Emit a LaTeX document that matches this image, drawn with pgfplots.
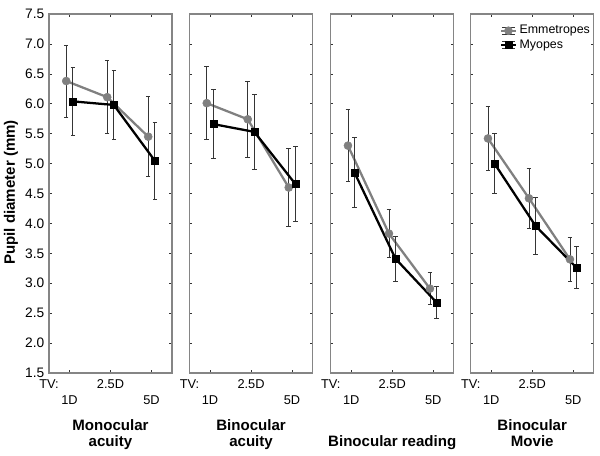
\documentclass[border=0pt]{standalone}
\usepackage{fontspec}
\setmainfont{Liberation Sans}
\usepackage{pgfplots}
\pgfplotsset{compat=1.18}
\definecolor{egray}{HTML}{808080}
\definecolor{axgray}{HTML}{858585}
\definecolor{errcol}{HTML}{353535}

\tikzset{
  xlab/.style={font=\fontsize{9.6}{11}\selectfont, anchor=base},
  ttl/.style={font=\bfseries\fontsize{11.3}{13}\selectfont, anchor=base},
}
\pgfplotsset{
  panel/.style={
    scale only axis, width=92.25pt, height=269.25pt,
    xmin=0.5, xmax=3.5, ymin=1.5, ymax=7.5,
    xtick={1,2,3}, xticklabels={},
    ytick={1.5,2.0,2.5,3.0,3.5,4.0,4.5,5.0,5.5,6.0,6.5,7.0,7.5},
    tick align=inside, tick pos=both, major tick length=2pt,
    axis line style={draw=axgray, line width=0.9pt},
    tick style={black!80, line width=0.5pt},
    yticklabel style={font=\fontsize{10.3}{12}\selectfont, /pgf/number format/.cd, fixed, fixed zerofill, precision=1, assume math mode=true},
    clip=false,
  },
  errs/.style={error bars/.cd, y dir=both, y explicit,
    error bar style={line width=0.55pt, errcol},
    error mark options={rotate=90, mark size=1.7pt, line width=0.55pt, errcol}},
  emm/.style={egray, line width=1.7pt, mark=*, mark size=3pt,
    mark options={fill=egray, draw=egray, solid, line width=0.4pt}, errs},
  myo/.style={black, line width=1.7pt, mark=square*, mark size=2.6pt,
    mark options={fill=black, draw=black, solid, line width=0.4pt}, errs},
}

\newcommand{\xlabs}{%
  \node[xlab, yshift=-11.25pt] at (axis cs:0.5,1.5) {TV:};
  \node[xlab, yshift=-11.25pt] at (axis cs:2,1.5) {2.5D};
  \node[xlab, yshift=-23.25pt] at (axis cs:1,1.5) {1D};
  \node[xlab, yshift=-23.25pt] at (axis cs:3,1.5) {5D};
}

\begin{document}
\begin{tikzpicture}
\useasboundingbox (-36.75pt,-61.5pt) rectangle (413.25pt,279.75pt);

% Panel 1: Monocular acuity
\begin{axis}[panel, name=a1, at={(0pt,0pt)}]
\addplot[emm] coordinates {(0.92,6.38) +- (0,0.60) (1.92,6.11) +- (0,0.61) (2.92,5.45) +- (0,0.67)};
\addplot[myo] coordinates {(1.08,6.04) +- (0,0.57) (2.08,5.98) +- (0,0.58) (3.08,5.05) +- (0,0.64)};
\xlabs
\node[ttl, yshift=-42.75pt] at (axis cs:2,1.5) {Monocular};
\node[ttl, yshift=-55.3pt] at (axis cs:2,1.5) {acuity};
\end{axis}

% Panel 2: Binocular acuity
\begin{axis}[panel, name=a2, at={(105.4pt,0pt)}, yticklabels={}]
\addplot[emm] coordinates {(0.92,6.01) +- (0,0.61) (1.92,5.74) +- (0,0.64) (2.92,4.60) +- (0,0.65)};
\addplot[myo] coordinates {(1.08,5.66) +- (0,0.58) (2.08,5.53) +- (0,0.62) (3.08,4.66) +- (0,0.62)};
\xlabs
\node[ttl, yshift=-42.75pt] at (axis cs:2,1.5) {Binocular};
\node[ttl, yshift=-55.3pt] at (axis cs:2,1.5) {acuity};
\end{axis}

% Panel 3: Binocular reading
\begin{axis}[panel, name=a3, at={(211.3pt,0pt)}, yticklabels={}]
\addplot[emm] coordinates {(0.92,5.30) +- (0,0.60) (1.92,3.83) +- (0,0.40) (2.92,2.91) +- (0,0.27)};
\addplot[myo] coordinates {(1.08,4.85) +- (0,0.58) (2.08,3.41) +- (0,0.375) (3.08,2.68) +- (0,0.27)};
\xlabs
\node[ttl, yshift=-55.3pt] at (axis cs:2,1.5) {Binocular reading};
\end{axis}

% Panel 4: Binocular Movie
\begin{axis}[panel, name=a4, at={(316.3pt,0pt)}, yticklabels={},
  legend style={at={(rel axis cs:0.225,0.98)}, anchor=north west, draw=none, fill=none,
    font=\fontsize{9.3}{10}\selectfont, row sep=-1.2pt, inner sep=1pt,
    /tikz/every even column/.append style={column sep=1.5pt}},
  legend cell align=left,
  legend image code/.code={%
    \draw[errcol, line width=0.6pt] (0.5pt,2.6pt) -- (10.5pt,2.6pt) (0.5pt,-2.6pt) -- (10.5pt,-2.6pt);
    \draw[mark repeat=2, mark phase=2, #1] plot coordinates {(0pt,0pt) (5.5pt,0pt) (11pt,0pt)};
  }]
\addplot[emm] coordinates {(0.92,5.42) +- (0,0.54) (1.92,4.42) +- (0,0.50) (2.92,3.40) +- (0,0.37)};
\addplot[myo] coordinates {(1.08,5.00) +- (0,0.50) (2.08,3.96) +- (0,0.47) (3.08,3.26) +- (0,0.35)};
\legend{Emmetropes, Myopes}
\xlabs
\node[ttl, yshift=-42.75pt] at (axis cs:2,1.5) {Binocular};
\node[ttl, yshift=-55.3pt] at (axis cs:2,1.5) {Movie};
\end{axis}

\node[rotate=90, font=\bfseries\fontsize{11.3}{13}\selectfont] at (-28.5pt,135.4pt) {Pupil diameter (mm)};
\end{tikzpicture}
\end{document}
